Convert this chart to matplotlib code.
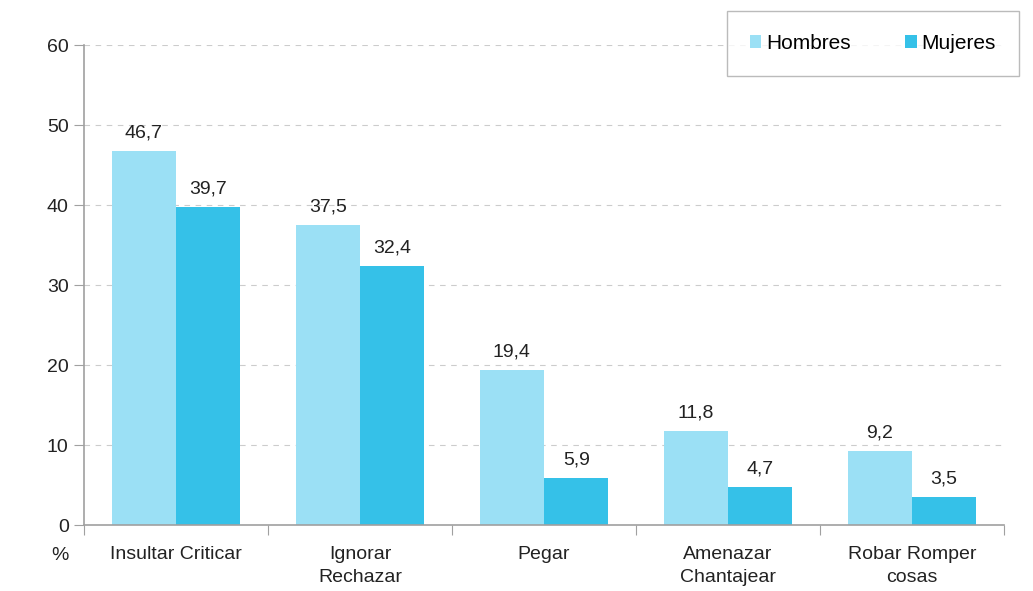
import matplotlib.pyplot as plt
import numpy as np

plt.rcParams['font.family'] = ['Liberation Sans', 'DejaVu Sans']

categorias = ['Insultar Criticar', 'Ignorar\nRechazar', 'Pegar', 'Amenazar\nChantajear', 'Robar Romper\ncosas']
hombres = [46.7, 37.5, 19.4, 11.8, 9.2]
mujeres = [39.7, 32.4, 5.9, 4.7, 3.5]

c_h = '#9be0f5'
c_m = '#35c1e8'
gris = '#a0a0a0'

fig = plt.figure(figsize=(10.33, 5.91), dpi=100)
ax = fig.add_axes([84/1033, 1-525/591, 920/1033, 480/591])

x = np.arange(len(categorias))
w = 0.35
b1 = ax.bar(x - w/2, hombres, w, color=c_h, label='Hombres')
b2 = ax.bar(x + w/2, mujeres, w, color=c_m, label='Mujeres')

def etiqueta(v):
    return f'{v:.1f}'.replace('.', ',')

for barras, vals in [(b1, hombres), (b2, mujeres)]:
    for b, v in zip(barras, vals):
        ax.text(b.get_x() + b.get_width()/2, v + 1.2, etiqueta(v), ha='center', va='bottom',
                fontsize=14, color='#222222')

ax.set_xlim(-0.5, len(categorias) - 0.5)
ax.set_ylim(0, 60)
ax.set_yticks(range(0, 61, 10))
ax.yaxis.grid(True, linestyle=(0, (5, 5)), color='#cccccc', linewidth=0.8)
ax.set_axisbelow(True)

ax.set_xticks(np.arange(-0.5, len(categorias)), labels=[''] * (len(categorias) + 1))
ax.set_xticks(x, labels=categorias, minor=True)
ax.tick_params(axis='x', which='minor', length=0, pad=15, labelsize=14, labelcolor='#222222')
ax.tick_params(axis='x', which='major', length=7, color=gris, direction='out')
ax.tick_params(axis='y', length=7, color=gris, labelsize=14, labelcolor='#222222', pad=4)
for t in ax.xaxis.get_minorticklabels():
    t.set_verticalalignment('top')
    t.set_linespacing(1.45)

for s in ['top', 'right']:
    ax.spines[s].set_visible(False)
ax.spines['left'].set_color(gris)
ax.spines['bottom'].set_color(gris)
ax.spines['left'].set_linewidth(1.2)
ax.spines['bottom'].set_linewidth(1.2)

fig.text(60/1033, 1-555/591, '%', fontsize=14, color='#222222', ha='center', va='center')

leg = ax.legend(loc='upper right', bbox_to_anchor=(1019/1033, 1-11/591), bbox_transform=fig.transFigure,
                ncol=2, frameon=True, fancybox=False, fontsize=15, handlelength=0.55, handleheight=0.55,
                handletextpad=0.25, columnspacing=2.6, borderpad=1.1, borderaxespad=0,
                edgecolor='#aaaaaa')
leg.get_frame().set_linewidth(1.0)

plt.savefig('out.png', dpi=100)
